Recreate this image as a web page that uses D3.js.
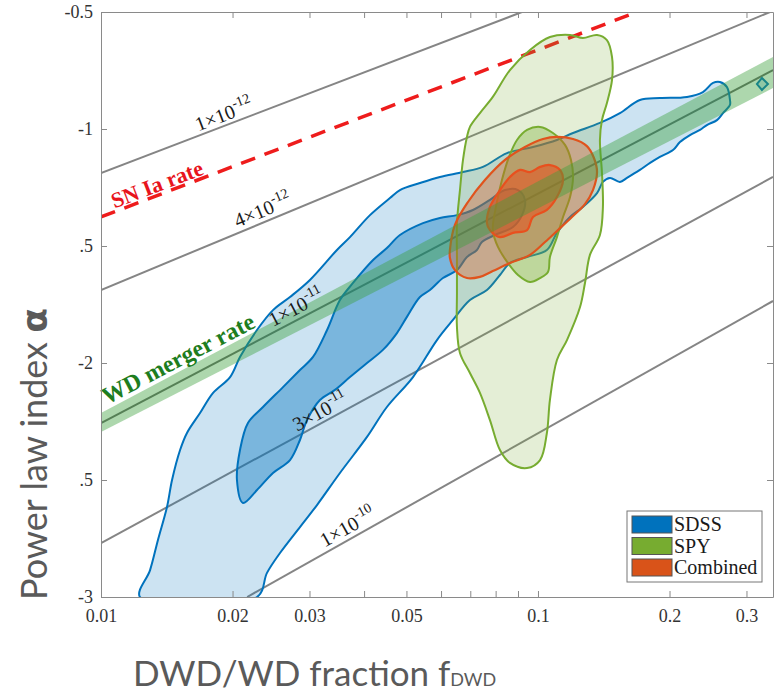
<!DOCTYPE html>
<html>
<head>
<meta charset="utf-8">
<script src="https://cdn.jsdelivr.net/npm/d3@7"></script>
<style>
  body { margin: 0; background: #fff; }
  .tick text { font-family: "Liberation Serif", serif; font-size: 18px; fill: #333; }
  .axis path, .axis line { stroke: #8a8a8a; }
</style>
</head>
<body>
<svg id="chart" width="775" height="693"></svg>
<script>
// ---- data (f = DWD/WD fraction, a = power law index alpha) ----
var xTicks = [0.01, 0.02, 0.03, 0.04, 0.05, 0.06, 0.07, 0.08, 0.09, 0.1, 0.2, 0.3];
var xTickLabels = ["0.01", "0.02", "0.03", "", "0.05", "", "", "", "", "0.1", "0.2", "0.3"];
var yTicks = [-0.5, -1, -1.5, -2, -2.5, -3];
var yTickLabels = ["-0.5", "-1", ".5", "-2", ".5", "-3"];

// constant-rate lines: [f, alpha] end points
var rateNames = ["1e-12", "4e-12", "1e-11", "3e-11", "1e-10"];
var rateMant = ["1", "4", "1", "3", "1"];
var rateExp = ["-12", "-12", "-11", "-11", "-10"];
var rateFrom = [[0.01, -1.188], [0.01, -1.688], [0.01, -2.257], [0.01, -2.770], [0.0216, -3.0]];
var rateTo = [[0.0919, -0.5], [0.3396, -0.5], [0.345, -0.748], [0.345, -1.205], [0.345, -1.735]];
var rateLabelF = [0.0195, 0.024, 0.0288, 0.0326, 0.0378];

var snFrom = [0.01, -1.376], snTo = [0.1684, -0.5];
var snLabelF = 0.0137;

// WD merger rate band (lower / upper alpha at each end)
var bandF = [0.01, 0.345];
var bandLo = [-2.295, -0.825];
var bandHi = [-2.214, -0.692];
var bandLabelF = 0.0158;

// confidence contours
var sdssOuter = [[0.01228,-3.0],[0.01295,-2.885],[0.0135,-2.756],[0.01416,-2.615],[0.01454,-2.5],[0.01517,-2.372],[0.01573,-2.299],[0.01685,-2.214],[0.01805,-2.128],[0.01974,-2.06],[0.0208,-1.974],[0.02275,-1.859],[0.02475,-1.774],[0.02707,-1.718],[0.03007,-1.645],[0.03467,-1.517],[0.03713,-1.462],[0.04126,-1.368],[0.04584,-1.295],[0.04832,-1.261],[0.05369,-1.231],[0.05965,-1.205],[0.06736,-1.184],[0.07482,-1.162],[0.08494,-1.103],[0.0974,-1.077],[0.1105,-1.047],[0.1203,-1.017],[0.1386,-0.974],[0.154,-0.932],[0.1711,-0.876],[0.1901,-0.868],[0.2193,-0.863],[0.2385,-0.842],[0.2515,-0.803],[0.2609,-0.799],[0.2707,-0.821],[0.275,-0.876],[0.275,-0.897],[0.2651,-0.932],[0.2568,-0.962],[0.2435,-0.983],[0.2348,-1.004],[0.2228,-1.026],[0.2113,-1.056],[0.2037,-1.09],[0.1901,-1.119],[0.1805,-1.145],[0.1711,-1.175],[0.1598,-1.209],[0.154,-1.226],[0.1461,-1.209],[0.1408,-1.226],[0.1365,-1.274],[0.1267,-1.333],[0.1184,-1.376],[0.1105,-1.444],[0.1048,-1.517],[0.0944,-1.547],[0.08626,-1.573],[0.08184,-1.624],[0.07642,-1.688],[0.06987,-1.731],[0.06389,-1.816],[0.05872,-1.902],[0.05176,-2.06],[0.04511,-2.188],[0.04062,-2.316],[0.03522,-2.47],[0.03121,-2.607],[0.02853,-2.701],[0.02568,-2.812],[0.02398,-2.897],[0.02275,-3.0]];
var sdssInner = [[0.02113,-2.598],[0.02047,-2.5],[0.0208,-2.372],[0.02169,-2.256],[0.02348,-2.188],[0.02609,-2.103],[0.02853,-2.03],[0.03056,-1.974],[0.03291,-1.859],[0.03522,-1.731],[0.03773,-1.658],[0.04194,-1.56],[0.04511,-1.509],[0.04832,-1.453],[0.05455,-1.402],[0.05965,-1.38],[0.06525,-1.368],[0.07098,-1.346],[0.07764,-1.303],[0.08405,-1.261],[0.09,-1.261],[0.09338,-1.303],[0.0919,-1.368],[0.08765,-1.419],[0.0797,-1.453],[0.07442,-1.483],[0.07249,-1.517],[0.06878,-1.547],[0.06525,-1.603],[0.06061,-1.637],[0.05659,-1.688],[0.05369,-1.718],[0.05013,-1.803],[0.04756,-1.872],[0.04417,-1.944],[0.04062,-2.0],[0.03713,-2.06],[0.03431,-2.115],[0.0317,-2.158],[0.02961,-2.244],[0.02853,-2.329],[0.02707,-2.415],[0.02475,-2.47],[0.02275,-2.543]];
var sdssIsland = [[0.3255,-0.782],[0.336,-0.808],[0.3255,-0.833],[0.317,-0.808]];
var spyOuter = [[0.06878,-1.034],[0.06987,-0.991],[0.07365,-0.932],[0.07882,-0.863],[0.08626,-0.748],[0.09587,-0.662],[0.1065,-0.607],[0.1184,-0.598],[0.1267,-0.611],[0.1365,-0.598],[0.1438,-0.62],[0.1477,-0.692],[0.1477,-0.791],[0.1438,-0.889],[0.1401,-0.962],[0.1386,-1.047],[0.1401,-1.188],[0.1408,-1.333],[0.1386,-1.453],[0.1315,-1.538],[0.1281,-1.658],[0.1248,-1.761],[0.1165,-1.902],[0.1105,-1.987],[0.1065,-2.158],[0.1048,-2.299],[0.1011,-2.415],[0.0944,-2.449],[0.08626,-2.427],[0.08184,-2.372],[0.07764,-2.244],[0.07365,-2.128],[0.06987,-2.043],[0.06629,-1.957],[0.06525,-1.846],[0.06525,-1.701],[0.06525,-1.547],[0.06525,-1.402],[0.06629,-1.261],[0.06736,-1.132]];
var spyInner = [[0.0944,-1.004],[0.1011,-0.991],[0.1082,-1.017],[0.1153,-1.068],[0.119,-1.132],[0.1203,-1.205],[0.1184,-1.291],[0.1141,-1.376],[0.1105,-1.462],[0.1065,-1.547],[0.1054,-1.611],[0.1011,-1.637],[0.09587,-1.654],[0.09,-1.624],[0.08539,-1.573],[0.08098,-1.504],[0.07882,-1.432],[0.08013,-1.333],[0.0827,-1.218],[0.08584,-1.119],[0.08953,-1.047]];
var combOuter = [[0.06288,-1.517],[0.06456,-1.41],[0.06915,-1.312],[0.07561,-1.218],[0.08405,-1.132],[0.09338,-1.077],[0.1027,-1.043],[0.1105,-1.034],[0.1203,-1.043],[0.1294,-1.073],[0.1343,-1.124],[0.1365,-1.184],[0.1336,-1.261],[0.1281,-1.321],[0.1196,-1.376],[0.1111,-1.432],[0.1038,-1.483],[0.09587,-1.538],[0.08626,-1.573],[0.07882,-1.607],[0.07365,-1.632],[0.06878,-1.637],[0.06456,-1.603],[0.06288,-1.551]];
var combInner = [[0.07764,-1.432],[0.07642,-1.402],[0.07764,-1.333],[0.08184,-1.261],[0.08626,-1.205],[0.09094,-1.175],[0.09587,-1.184],[0.1011,-1.162],[0.1065,-1.154],[0.1123,-1.175],[0.1141,-1.218],[0.1105,-1.291],[0.1048,-1.346],[0.0974,-1.376],[0.0944,-1.432],[0.08765,-1.444],[0.08184,-1.462]];

var legendNames = ["SDSS", "SPY", "Combined"];
var legendColors = ["#0072BD", "#77AC30", "#D95319"];

// ---- layout ----
var pl = 101, pr = 773, pt = 12, pb = 597;

var svg = d3.select("#chart");

var x = d3.scaleLog().domain([0.01, 0.345]).range([pl, pr]);
var y = d3.scaleLinear().domain([-3, -0.5]).range([pb, pt]);

svg.append("defs").append("clipPath").attr("id", "plot")
    .append("rect").attr("x", pl).attr("y", pt)
    .attr("width", pr - pl).attr("height", pb - pt);

var plot = svg.append("g").attr("clip-path", "url(#plot)");

var line = d3.line().x(function(d) { return x(d[0]); }).y(function(d) { return y(d[1]); });
var smooth = d3.line().x(function(d) { return x(d[0]); }).y(function(d) { return y(d[1]); })
    .curve(d3.curveCatmullRomClosed.alpha(0.5));

// constant rate lines
rateNames.forEach(function(n, i) {
    plot.append("path")
        .attr("d", line([rateFrom[i], rateTo[i]]))
        .attr("fill", "none")
        .attr("stroke", i == 2 ? "#6a6a6a" : "#858585")
        .attr("stroke-width", 2);
});

// SN Ia rate
plot.append("path")
    .attr("d", line([snFrom, snTo]))
    .attr("fill", "none")
    .attr("stroke", "#ee1c1c")
    .attr("stroke-width", 3.5)
    .attr("stroke-dasharray", "15,10");

// contours
function contour(pts, col, op, sw) {
    plot.append("path")
        .attr("d", smooth(pts))
        .attr("fill", col).attr("fill-opacity", op)
        .attr("stroke", col).attr("stroke-width", sw);
}
contour(sdssOuter, "#0072BD", 0.2, 2);
contour(sdssInner, "#0072BD", 0.4, 2);
plot.append("path").attr("d", line(sdssIsland) + "Z")
    .attr("fill", "#0072BD").attr("fill-opacity", 0.2)
    .attr("stroke", "#0072BD").attr("stroke-width", 2);
contour(spyOuter, "#77AC30", 0.2, 2);
contour(spyInner, "#77AC30", 0.35, 2);
contour(combOuter, "#E0531C", 0.35, 2.2);
contour(combInner, "#E8501E", 0.55, 2.2);

// WD merger rate band
var bandPts = [[bandF[0], bandLo[0]], [bandF[1], bandLo[1]], [bandF[1], bandHi[1]], [bandF[0], bandHi[0]]];
plot.append("path")
    .attr("d", line(bandPts) + "Z")
    .attr("fill", "rgb(60,160,60)")
    .attr("fill-opacity", 0.42);

// ---- labels along lines ----
function alongLine(p0, p1, f, off) {
    var x0 = x(p0[0]), y0 = y(p0[1]), x1 = x(p1[0]), y1 = y(p1[1]);
    var px = x(f);
    var py = y0 + (px - x0) / (x1 - x0) * (y1 - y0);
    var ang = Math.atan2(y1 - y0, x1 - x0) * 180 / Math.PI;
    return "translate(" + px + "," + py + ") rotate(" + ang + ") translate(0," + (-off) + ")";
}

var rateOff = [4, 5, 5, 4, 5];
rateNames.forEach(function(n, i) {
    var t = svg.append("text")
        .attr("transform", alongLine(rateFrom[i], rateTo[i], rateLabelF[i], rateOff[i]))
        .attr("text-anchor", "middle")
        .attr("font-family", "Liberation Serif, serif")
        .attr("font-size", 20)
        .attr("fill", "#1a1a1a");
    t.append("tspan").text(rateMant[i] + "\u00d710");
    t.append("tspan").attr("dy", -9).attr("font-size", 14).text(rateExp[i]);
});

svg.append("text")
    .attr("transform", alongLine(snFrom, snTo, snLabelF, 3))
    .attr("text-anchor", "middle")
    .attr("font-family", "Liberation Serif, serif")
    .attr("font-weight", "bold")
    .attr("font-size", 22)
    .attr("fill", "#e8141c")
    .text("SN Ia rate");

svg.append("text")
    .attr("transform", alongLine([bandF[0], (bandLo[0] + bandHi[0]) / 2], [bandF[1], (bandLo[1] + bandHi[1]) / 2], bandLabelF, 13))
    .attr("text-anchor", "middle")
    .attr("font-family", "Liberation Serif, serif")
    .attr("font-weight", "bold")
    .attr("font-size", 24)
    .attr("fill", "#1e7d1e")
    .text("WD merger rate");

// ---- axes ----
svg.append("g").attr("class", "axis")
    .attr("transform", "translate(0," + pb + ")")
    .call(d3.axisBottom(x).tickValues(xTicks).tickSize(-6).tickSizeOuter(0).tickPadding(12)
        .tickFormat(function(d, i) { return xTickLabels[i]; }));
svg.append("g").attr("class", "axis")
    .attr("transform", "translate(0," + pt + ")")
    .call(d3.axisTop(x).tickValues(xTicks).tickSize(-6).tickSizeOuter(0).tickFormat(""));
svg.append("g").attr("class", "axis")
    .attr("transform", "translate(" + pl + ",0)")
    .call(d3.axisLeft(y).tickValues(yTicks).tickSize(-6).tickSizeOuter(0).tickPadding(8)
        .tickFormat(function(d, i) { return yTickLabels[i]; }));
svg.append("g").attr("class", "axis")
    .attr("transform", "translate(" + pr + ",0)")
    .call(d3.axisRight(y).tickValues(yTicks).tickSize(-6).tickSizeOuter(0).tickFormat(""));

// axis titles
var yt = svg.append("text")
    .attr("transform", "translate(47,600) rotate(-90)")
    .attr("font-family", "Lato, sans-serif")
    .attr("font-size", 36)
    .attr("fill", "#5a5a5a");
yt.append("tspan").text("Power law index ");
yt.append("tspan").attr("font-weight", "bold").attr("font-family", "DejaVu Sans, sans-serif").text("\u03b1");

var xt = svg.append("text")
    .attr("x", 133).attr("y", 686)
    .attr("font-family", "Lato, sans-serif")
    .attr("font-size", 35)
    .attr("fill", "#5a5a5a");
xt.append("tspan").text("DWD/WD fraction f");
xt.append("tspan").attr("font-size", 18).text("DWD");

// ---- legend ----
var lg = svg.append("g").attr("transform", "translate(627,511)");
lg.append("rect").attr("width", 135).attr("height", 71)
    .attr("fill", "#fff").attr("stroke", "#777").attr("stroke-width", 1);
legendNames.forEach(function(n, i) {
    lg.append("rect")
        .attr("x", 5).attr("y", 5 + i * 21.5)
        .attr("width", 40).attr("height", 17)
        .attr("fill", legendColors[i])
        .attr("stroke", "#555").attr("stroke-width", 1);
    lg.append("text")
        .attr("x", 47).attr("y", 20 + i * 21.5)
        .attr("font-family", "Liberation Serif, serif")
        .attr("font-size", 20)
        .attr("fill", "#1a1a1a")
        .text(n);
});
</script>
</body>
</html>
